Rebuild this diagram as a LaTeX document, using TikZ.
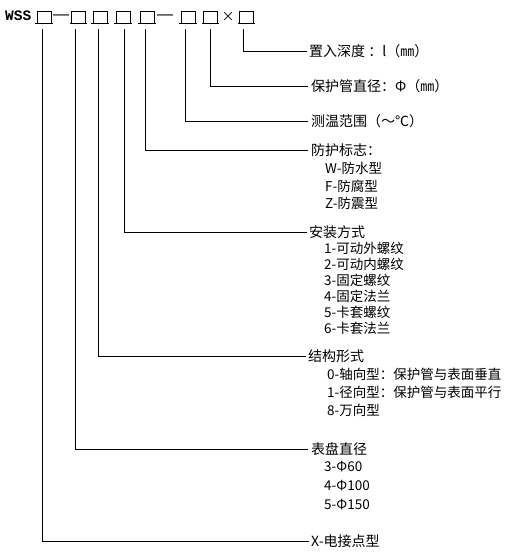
\documentclass[tikz,border=0pt]{standalone}
\usepackage{fontspec}
\setmainfont{Noto Sans CJK SC}
\newfontfamily\monob{Liberation Mono}
\newfontfamily\lsans{Liberation Sans}
\begin{document}
\begin{tikzpicture}[x=1pt,y=-1pt,
  lab/.style={anchor=west,inner sep=0pt,font=\fontsize{14pt}{16pt}\selectfont},
  sub/.style={anchor=west,inner sep=0pt,font=\fontsize{13.5pt}{15pt}\selectfont},
  box/.style={draw,line width=0.8pt,minimum width=14pt,minimum height=12pt,inner sep=0pt},
  dashmark/.style={inner sep=0pt,font=\lsans\fontsize{16pt}{17pt}\selectfont},
  uline/.style={line width=1.8pt},
  conn/.style={line width=0.8pt}]
\useasboundingbox (0,0) rectangle (512,557);
% header
\node[anchor=west,inner sep=0pt,font=\monob\bfseries\fontsize{14.5pt}{16pt}\selectfont] (wss) at (5,16) {WSS};
\node[box] (b1) at (44,17) {};
\node[dashmark] (d1) at (61,17.5) {—};
\node[box] (b2) at (78.5,17) {};
\node[box] (b3) at (100,17) {};
\node[box] (b4) at (123,17) {};
\node[box] (b5) at (147,17) {};
\node[dashmark] (d2) at (165,17.5) {—};
\node[box] (b6) at (188,17) {};
\node[box] (b7) at (210.5,17) {};
\node[inner sep=0pt,font=\fontsize{13pt}{15pt}\selectfont] (x1) at (228,16.5) {×};
\node[box] (b8) at (246.5,17) {};
\foreach \b in {b1,b2,b3,b4,b5,b6,b7,b8}
  \draw[uline] ([xshift=-1.5pt]\b.south west) -- ([xshift=1.5pt]\b.south east);

% labels
\node[lab] (l8) at (309,51) {置入深度 ：l（㎜）};
\node[lab] (l7) at (311,86) {保护管直径：Φ（㎜）};
\node[lab] (l6) at (311,121) {测温范围（～℃）};
\node[lab] (l5) at (311,150) {防护标志：};
\node[sub] (l5a) at (325,168) {W-防水型};
\node[sub] (l5b) at (325,186) {F-防腐型};
\node[sub] (l5c) at (325,203) {Z-防震型};
\node[lab] (l4) at (309,232) {安装方式};
\node[sub] (l4a) at (324,248) {1-可动外螺纹};
\node[sub] (l4b) at (324,264) {2-可动内螺纹};
\node[sub] (l4c) at (324,280) {3-固定螺纹};
\node[sub] (l4d) at (324,296) {4-固定法兰};
\node[sub] (l4e) at (324,312) {5-卡套螺纹};
\node[sub] (l4f) at (324,328) {6-卡套法兰};
\node[lab] (l3) at (308,356) {结构形式};
\node[sub] (l3a) at (327,374) {0-轴向型：保护管与表面垂直};
\node[sub] (l3b) at (327,392) {1-径向型：保护管与表面平行};
\node[sub] (l3c) at (327,410) {8-万向型};
\node[lab] (l2) at (311,449) {表盘直径};
\node[sub] (l2a) at (324,467) {3-Φ60};
\node[sub] (l2b) at (324,486) {4-Φ100};
\node[sub] (l2c) at (324,505) {5-Φ150};
\node[lab] (l1) at (311,541) {X-电接点型};

% connectors
\draw[conn] ([xshift=-3pt,yshift=-6pt]b8.south) |- ([xshift=-2pt]l8.west);
\draw[conn] ([xshift=0pt,yshift=-6pt]b7.south) |- ([xshift=-3pt]l7.west);
\draw[conn] ([xshift=-2.5pt,yshift=-6pt]b6.south) |- ([xshift=-3pt]l6.west);
\draw[conn] ([xshift=-1.5pt,yshift=-6pt]b5.south) |- ([xshift=-3pt]l5.west);
\draw[conn] ([xshift=1pt,yshift=-6pt]b4.south) |- ([xshift=-2pt]l4.west);
\draw[conn] ([xshift=-1.5pt,yshift=-6pt]b3.south) |- ([xshift=-2pt]l3.west);
\draw[conn] ([xshift=-3.5pt,yshift=-6pt]b2.south) |- ([xshift=-3pt]l2.west);
\draw[conn] ([xshift=-1.5pt,yshift=-6pt]b1.south) |- ([xshift=-2pt]l1.west);
\end{tikzpicture}
\end{document}
